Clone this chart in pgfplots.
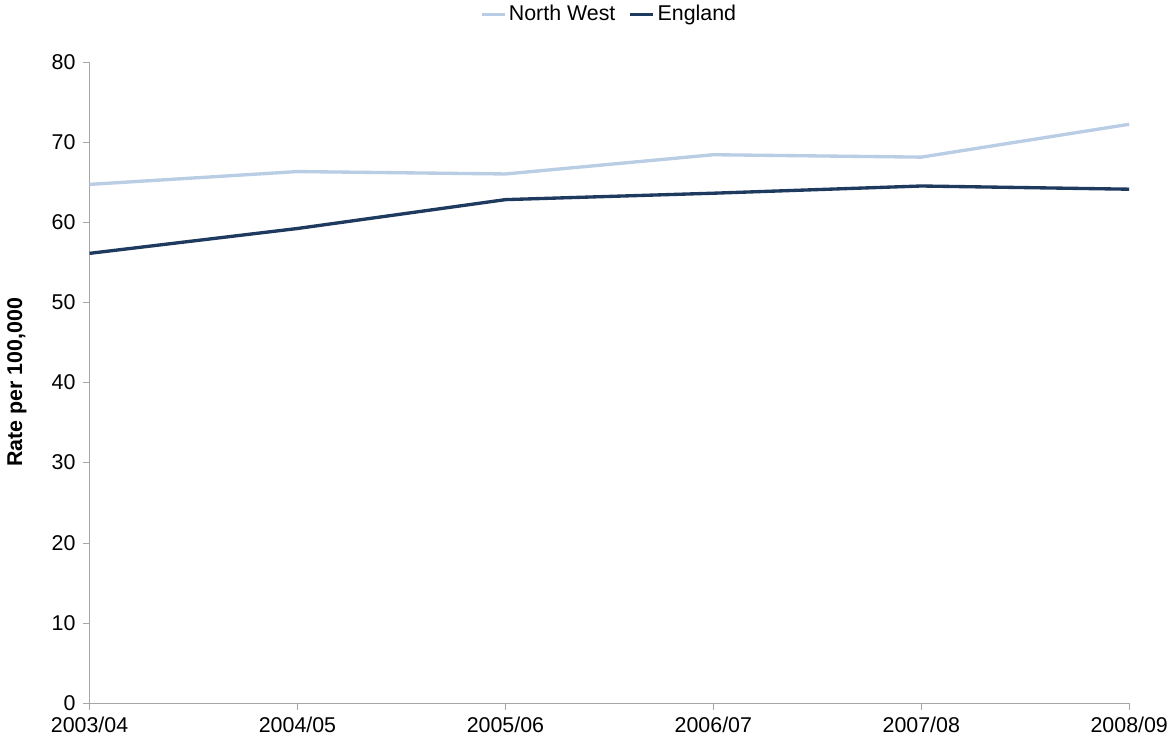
\documentclass[border=0pt]{standalone}
\usepackage{pgfplots}
\pgfplotsset{compat=1.18}
\usepackage{fontspec}
\setmainfont{Liberation Sans}
\definecolor{nw}{HTML}{B9CDE5}
\definecolor{en}{HTML}{1F3A5F}
\begin{document}
\fontsize{16}{18}\selectfont
\begin{tikzpicture}
\begin{axis}[
  scale only axis, width=778pt, height=480pt,
  xmin=0, xmax=5, ymin=0, ymax=80, ytick={0,10,...,80},
  xtick={0,...,5},
  xticklabels={2003/04,2004/05,2005/06,2006/07,2007/08,2008/09},
  axis x line*=bottom, axis y line*=left,
  axis line style={gray!70}, tick style={gray!70},
  tick align=outside, major tick length=5pt,
  /pgf/number format/assume math mode=true,
  ticklabel style={font=\fontsize{16}{18}\selectfont},
  ylabel={\textbf{Rate per 100,000}},
  ylabel style={font=\fontsize{16}{18}\selectfont, yshift=8pt},
  legend style={at={(0.5,1.05)}, anchor=south, draw=none, legend columns=2,
    font=\fontsize{16}{18}\selectfont, /tikz/every even column/.append style={column sep=8pt}},
  legend image post style={line width=2.5pt},
  clip=false,
]
\addplot[nw, line width=2.5pt] coordinates {(0,64.7)(1,66.3)(2,66.0)(3,68.4)(4,68.1)(5,72.2)};
\addlegendentry{North West}
\addplot[en, line width=2.5pt] coordinates {(0,56.1)(1,59.2)(2,62.8)(3,63.6)(4,64.5)(5,64.1)};
\addlegendentry{England}
\end{axis}
\end{tikzpicture}
\end{document}
